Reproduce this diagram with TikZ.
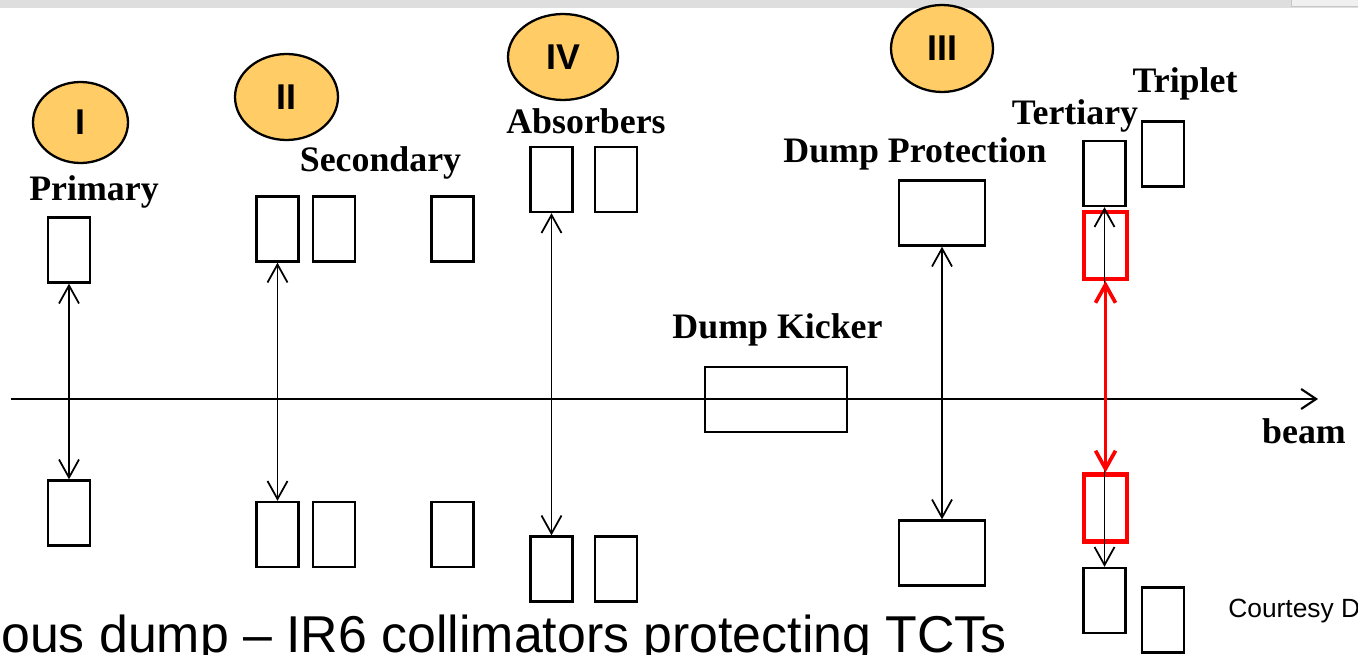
\documentclass[tikz,border=0pt]{standalone}
\usepackage{fontspec}
\setmainfont{Liberation Serif}
\newfontfamily\arialfont{Liberation Sans}
\usetikzlibrary{shapes.geometric, arrows.meta, positioning}
\definecolor{stagefill}{RGB}{255,204,102}

\begin{document}
\begin{tikzpicture}[x=0.02cm, y=-0.02cm,
    coll/.style={draw, line width=1.35pt, minimum width=0.84cm, minimum height=1.3cm, inner sep=0},
    hit/.style={draw=red, line width=2.3pt, minimum width=0.86cm, minimum height=1.34cm, inner sep=0},
    stage/.style={ellipse, draw, fill=stagefill, line width=1.3pt, inner sep=0, font=\fontsize{20.4}{24}\arialfont\bfseries},
    lbl/.style={anchor=base, inner sep=0, font=\fontsize{20.4}{24}\selectfont\bfseries},
    arrow/.style={{Straight Barb[length=0.36cm,width=0.4cm]}-{Straight Barb[length=0.36cm,width=0.4cm]}, line width=1pt},
    redarrow/.style={arrow, draw=red, line width=2.1pt}
]
    \useasboundingbox (0,0) rectangle (1358,655);
    \clip (0,0) rectangle (1358,655);
    % slide band at the top
    \fill[black!13] (0,0) rectangle (1358,8.5);
    \draw[black!22, fill=black!6] (1291,-2) rectangle (1362,6.5);

    % stages
    \node[stage, minimum width=1.9cm, minimum height=1.62cm] (st1) at (80.5,122.5) {I};
    \node[stage, minimum width=2.06cm, minimum height=1.72cm] (st2) at (286.5,97) {II};
    \node[stage, minimum width=2.2cm, minimum height=1.72cm] (st4) at (563,57) {IV};
    \node[stage, minimum width=2.04cm, minimum height=1.74cm] (st3) at (942,48.5) {III};

    % labels
    \node[lbl] (lprim) at (94,200) {Primary};
    \node[lbl] (lsec) at (380.5,172) {Secondary};
    \node[lbl] (labs) at (586,134) {Absorbers};
    \node[lbl] (ldp) at (915,163) {Dump Protection};
    \node[lbl] (lter) at (1075,125) {Tertiary};
    \node[lbl] (ltrip) at (1185,93) {Triplet};
    \node[lbl] (ldk) at (777.5,338) {Dump Kicker};
    \node[lbl] (lbeam) at (1304,443) {beam};

    % beam line
    \coordinate (bs) at (11,399);
    \coordinate (be) at (1318,399);
    \draw[-{Straight Barb[length=0.3cm,width=0.4cm]}, line width=1.2pt] (bs) -- (be);

    % collimators
    \node[coll] (pU) at (69,250) {};
    \node[coll] (pL) at (69,513) {};
    \node[coll] (sU1) at (277.5,229) {};
    \node[coll] (sU2) at (334,229) {};
    \node[coll] (sU3) at (452.5,229) {};
    \node[coll] (sL1) at (277.5,534.5) {};
    \node[coll] (sL2) at (334,534.5) {};
    \node[coll] (sL3) at (452.5,534.5) {};
    \node[coll] (aU1) at (551.5,179.5) {};
    \node[coll] (aU2) at (616,179.5) {};
    \node[coll] (aL1) at (551.5,569) {};
    \node[coll] (aL2) at (616,569) {};
    \node[coll, minimum width=2.84cm] (dk) at (776,399.5) {};
    \node[coll, minimum width=1.72cm] (dpU) at (942,213) {};
    \node[coll, minimum width=1.72cm] (dpL) at (942,553) {};
    \node[coll] (tU) at (1104.5,173.5) {};
    \node[coll] (tL) at (1104.5,600.5) {};
    \node[coll] (trU) at (1163,154) {};
    \node[coll] (trL) at (1163,620) {};
    \node[hit] (rU) at (1105.5,245.5) {};
    \node[hit] (rL) at (1105.5,508) {};

    % apertures
    \draw[arrow] (pU) -- (pL);
    \draw[arrow] (sU1) -- (sL1);
    \draw[arrow] (aU1) -- (aL1);
    \draw[arrow] (dpU) -- (dpL);
    \draw[arrow] (tU) -- (tL);
    \draw[redarrow] (rU) -- (rL);

    \node[anchor=base west, inner sep=0, font=\fontsize{15}{18}\arialfont] (court) at (1228,617) {Courtesy D};
    \node[anchor=base west, inner sep=0, font=\fontsize{29.5}{34}\arialfont] (title) at (1,652) {ous dump – IR6 collimators protecting TCTs};
\end{tikzpicture}
\end{document}
